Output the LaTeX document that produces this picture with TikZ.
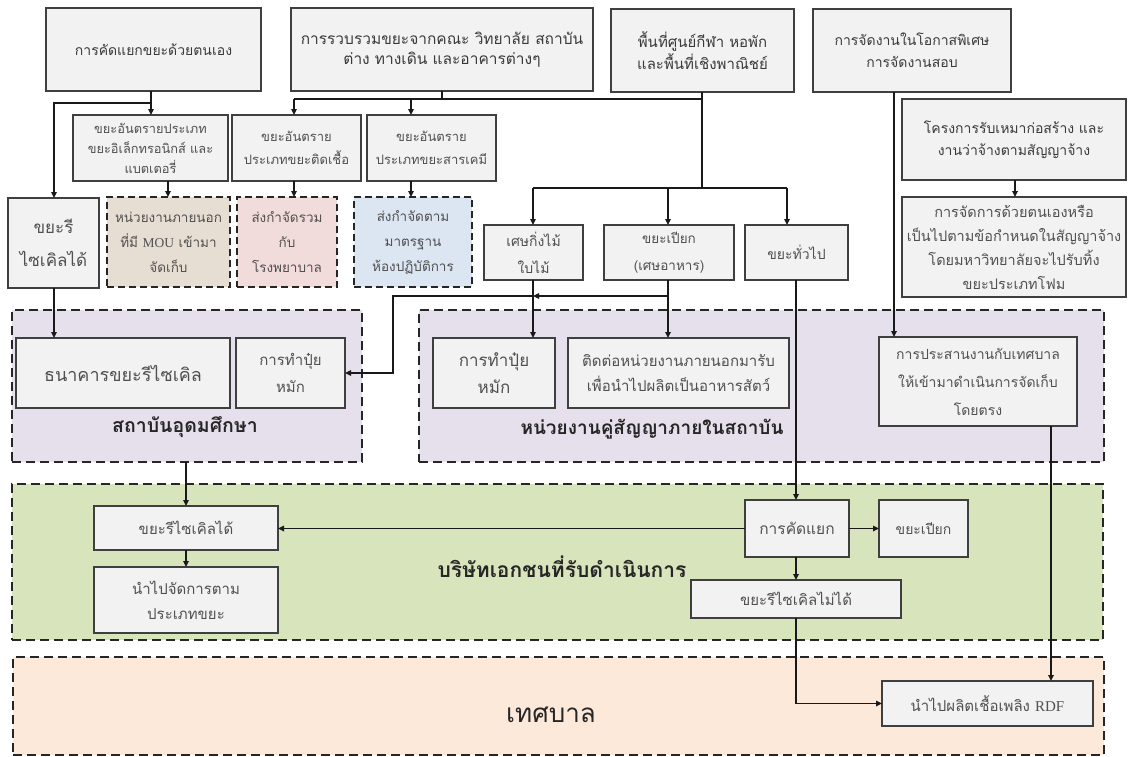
\documentclass[tikz,border=0pt]{standalone}
\usepackage{fontspec}
\setmainfont{Loma}[Script=Thai]
\newfontfamily\lat{Liberation Serif}
\usetikzlibrary{arrows.meta}
\definecolor{boxfill}{HTML}{F2F2F2}
\definecolor{boxline}{HTML}{3F3F3F}
\definecolor{txt}{HTML}{505050}
\definecolor{txtd}{HTML}{3A3A3A}
\definecolor{brownf}{HTML}{E7DED3}
\definecolor{pinkf}{HTML}{F2DCDB}
\definecolor{bluef}{HTML}{DCE6F2}
\definecolor{purplef}{HTML}{E5E0EC}
\definecolor{greenf}{HTML}{D8E4BC}
\definecolor{orangef}{HTML}{FDE9D9}
\newcommand\fs[2]{\fontsize{#1}{#2}\selectfont}
\newcommand\bx[7][box]{\node[#1,minimum width={(#5-#3)*1pt},minimum height={(#6-#4)*1pt}] (#2) at (#3,#4) {#7};}
\begin{document}
\begin{tikzpicture}[x=1pt,y=-1pt,
  box/.style={draw=boxline,fill=boxfill,line width=1.1pt,inner sep=1pt,outer sep=0pt,align=center,text=txt,anchor=north west},
  tbox/.style={box,text=txtd},
  dbox/.style={box,draw=black!85,dash pattern=on 7pt off 4pt,line width=1.7pt},
  grp/.style={draw=black!85,dash pattern=on 9pt off 5pt,line width=1.7pt,anchor=north west,outer sep=0pt,inner sep=0pt},
  ttl/.style={text=black!85},
  arr/.style={line width=1.5pt,draw=black!90,-{Triangle[length=6pt,width=5.5pt]}},
  ln/.style={line width=1.5pt,draw=black!90},
]
\useasboundingbox (0,0) rectangle (1129,756);
\fill[white] (0,0) rectangle (1129,756);
% group areas
\bx[grp,fill=purplef]{P1}{12}{310}{362}{462}{}
\bx[grp,fill=purplef]{P2}{419}{310}{1104}{462}{}
\bx[grp,fill=greenf]{G}{12}{484}{1103}{640}{}
\bx[grp,fill=orangef]{O}{13}{657}{1104}{755}{}
% top row
\bx[tbox,font=\fs{14}{20}]{A}{46}{8}{261}{91}{การคัดแยกขยะด้วยตนเอง}
\bx[tbox,font=\fs{15.5}{20}]{B}{291}{8}{593}{91}{การรวบรวมขยะจากคณะ วิทยาลัย สถาบัน\\ต่าง ทางเดิน และอาคารต่างๆ}
\bx[tbox,font=\fs{15}{22}]{C}{611}{9}{794}{92}{พื้นที่ศูนย์กีฬา หอพัก\\และพื้นที่เชิงพาณิชย์}
\bx[tbox,font=\fs{14}{22}]{D}{813}{9}{1011}{92}{การจัดงานในโอกาสพิเศษ\\การจัดงานสอบ}
\bx[tbox,font=\fs{14}{22}]{E}{902}{99}{1126}{180}{โครงการรับเหมาก่อสร้าง และ\\งานว่าจ้างตามสัญญาจ้าง}
\bx[box,font=\fs{14.5}{24}]{F}{902}{197}{1126}{297}{การจัดการด้วยตนเองหรือ\\เป็นไปตามข้อกำหนดในสัญญาจ้าง\\โดยมหาวิทยาลัยจะไปรับทิ้ง\\ขยะประเภทโฟม}
% hazardous row
\bx[box,font=\fs{12.8}{20}]{ewaste}{73}{115}{228}{181}{ขยะอันตรายประเภท\\ขยะอิเล็กทรอนิกส์ และ\\แบตเตอรี่}
\bx[box,font=\fs{13}{23}]{infect}{232}{115}{361}{181}{ขยะอันตราย\\ประเภทขยะติดเชื้อ}
\bx[box,font=\fs{13}{23}]{chem}{367}{115}{496}{181}{ขยะอันตราย\\ประเภทขยะสารเคมี}
\bx[dbox,fill=brownf,font=\fs{13.5}{25}]{brown}{107}{197}{230}{287}{หน่วยงานภายนอก\\ที่มี {\lat MOU} เข้ามา\\จัดเก็บ}
\bx[dbox,fill=pinkf,font=\fs{13.5}{25}]{pink}{237}{197}{337}{287}{ส่งกำจัดรวม\\กับ\\โรงพยาบาล}
\bx[dbox,fill=bluef,font=\fs{13.5}{25}]{blue}{354}{197}{472}{287}{ส่งกำจัดตาม\\มาตรฐาน\\ห้องปฏิบัติการ}
\bx[box,font=\fs{17}{33}]{recyc}{8}{198}{99}{288}{ขยะรี\\ไซเคิลได้}
% branch row
\bx[box,font=\fs{14}{27}]{branch}{484}{225}{583}{280}{เศษกิ่งไม้\\ใบไม้}
\bx[box,font=\fs{13.5}{27}]{food}{604}{225}{734}{280}{ขยะเปียก\\(เศษอาหาร)}
\bx[box,font=\fs{14}{27}]{general}{745}{225}{848}{280}{ขยะทั่วไป}
% institution
\bx[box,font=\fs{18}{24}]{bank}{16}{338}{230}{408}{ธนาคารขยะรีไซเคิล}
\bx[box,font=\fs{15}{27}]{comp1}{236}{338}{345}{408}{การทำปุ๋ย\\หมัก}
\node[ttl,font=\fs{19.5}{24}\bfseries] (t1) at (185,427) {สถาบันอุดมศึกษา};
% contractors
\bx[box,font=\fs{17}{27}]{comp2}{433}{338}{555}{408}{การทำปุ๋ย\\หมัก}
\bx[box,font=\fs{15}{25}]{contact}{568}{338}{789}{408}{ติดต่อหน่วยงานภายนอกมารับ\\เพื่อนำไปผลิตเป็นอาหารสัตว์}
\bx[box,font=\fs{14}{28}]{coord}{879}{337}{1077}{426}{การประสานงานกับเทศบาล\\ให้เข้ามาดำเนินการจัดเก็บ\\โดยตรง}
\node[ttl,font=\fs{19}{24}\bfseries] (t2) at (652,429) {หน่วยงานคู่สัญญาภายในสถาบัน};
% private company
\bx[box,font=\fs{15}{22}]{rec2}{94}{506}{278}{550}{ขยะรีไซเคิลได้}
\bx[box,font=\fs{15}{25}]{manage}{94}{567}{278}{633}{นำไปจัดการตาม\\ประเภทขยะ}
\bx[box,font=\fs{15.5}{22}]{sort}{745}{500}{849}{557}{การคัดแยก}
\bx[box,font=\fs{14}{22}]{wet}{879}{500}{968}{557}{ขยะเปียก}
\bx[box,font=\fs{15}{22}]{nonrec}{691}{580}{901}{618}{ขยะรีไซเคิลไม่ได้}
\node[ttl,font=\fs{21}{24}\bfseries] (t3) at (562,567) {บริษัทเอกชนที่รับดำเนินการ};
% municipality
\bx[box,font=\fs{15}{22}]{rdf}{882}{681}{1093}{726}{นำไปผลิตเชื้อเพลิง {\lat RDF}}
\node[ttl,font=\fs{26}{30}] (t4) at (551,715) {เทศบาล};
% column / row coordinates
\coordinate (kA) at (151,0);
\coordinate (kR) at (54,0);
\coordinate (kB) at (442,0);
\coordinate (kI) at (294,0);
\coordinate (kC) at (411,0);
\coordinate (kH) at (168,0);
\coordinate (kS) at (702,0);
\coordinate (kBr) at (533,0);
\coordinate (kF) at (668,0);
\coordinate (kGa) at (787,0);
\coordinate (kG) at (796,0);
\coordinate (kD) at (894,0);
\coordinate (kE) at (1015,0);
\coordinate (kK) at (393,0);
\coordinate (kP) at (186,0);
\coordinate (kT) at (1051,0);
\coordinate (r99) at (0,99);
\coordinate (r103) at (0,103);
\coordinate (r188) at (0,188);
\coordinate (r296) at (0,296);
% connectors
\draw[arr] (A.south -| kA) -- (ewaste.north -| kA);
\draw[arr] (kA |- r103) -- (kR |- r103) -- (recyc.north -| kR);
\draw[ln] (B.south -| kB) -- (kB |- r99);
\draw[ln] (kI |- r99) -- (kS |- r99);
\draw[arr] (kI |- r99) -- (infect.north -| kI);
\draw[arr] (kC |- r99) -- (chem.north -| kC);
\draw[ln] (C.south -| kS) -- (kS |- r188);
\draw[ln] (kBr |- r188) -- (kGa |- r188);
\draw[arr] (kBr |- r188) -- (branch.north -| kBr);
\draw[arr] (kF |- r188) -- (food.north -| kF);
\draw[arr] (kGa |- r188) -- (general.north -| kGa);
\draw[arr] (D.south -| kD) -- (coord.north -| kD);
\draw[arr] (E.south -| kE) -- (F.north -| kE);
\draw[arr] (ewaste.south -| kH) -- (brown.north -| kH);
\draw[arr] (infect.south -| kI) -- (pink.north -| kI);
\draw[arr] (chem.south -| kC) -- (blue.north -| kC);
\draw[arr] (recyc.south -| kR) -- (bank.north -| kR);
\draw[arr] (branch.south -| kBr) -- (comp2.north -| kBr);
\draw[arr] (food.south -| kF) -- (contact.north -| kF);
\draw[arr] (kF |- r296) -- (kBr |- r296);
\draw[arr] (kBr |- r296) -- (kK |- r296) -- (kK |- comp1.east) -- (comp1.east);
\draw[arr] (general.south -| kG) -- (sort.north -| kG);
\draw[arr] (coord.south -| kT) -- (rdf.north -| kT);
\draw[arr] (P1.south -| kP) -- (rec2.north -| kP);
\draw[arr] (rec2.south -| kP) -- (manage.north -| kP);
\draw[arr] (sort.west) -- (rec2.east |- sort.west);
\draw[arr] (sort.east) -- (wet.west |- sort.east);
\draw[arr] (sort.south -| kG) -- (nonrec.north -| kG);
\draw[arr] (nonrec.south -| kG) -- (kG |- rdf.west) -- (rdf.west);
\end{tikzpicture}
\end{document}
